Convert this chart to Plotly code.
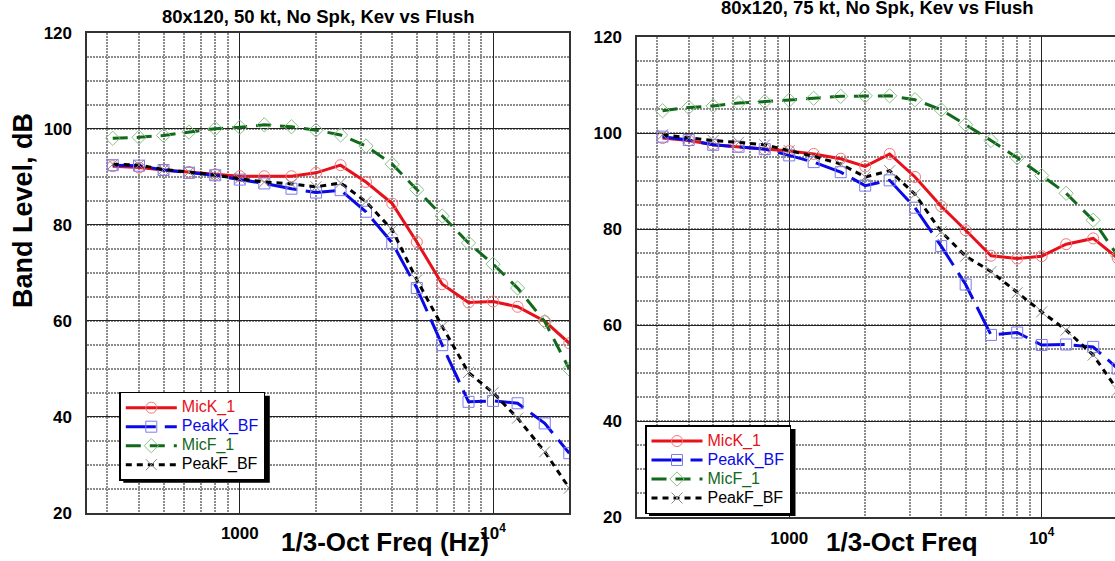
import math
import plotly.graph_objects as go

# ---------------- data ----------------
freq_hz = [315, 400, 500, 630, 800, 1000, 1250, 1600, 2000, 2500, 3150,
           4000, 5000, 6300, 8000, 10000, 12500, 16000, 20000]

# 50 kt panel
mick_50 = [92.2, 91.9, 91.4, 91.0, 90.5, 90.1, 90.1, 90.1, 90.8, 92.4, 88.9,
           84.4, 76.4, 67.6, 63.8, 64.0, 62.9, 59.9, 55.3]
peakk_50 = [92.4, 92.3, 91.4, 90.8, 90.3, 89.4, 88.6, 87.5, 86.7, 87.2, 82.7,
            76.2, 66.8, 54.9, 43.1, 43.3, 42.8, 38.6, 32.4]
micf_50 = [98.0, 98.2, 98.6, 99.3, 100.0, 100.3, 100.8, 100.4, 99.7, 98.7, 96.4,
           92.6, 87.3, 81.8, 76.2, 71.8, 66.8, 59.8, 49.9]
peakf_50 = [92.6, 92.4, 91.5, 91.0, 90.3, 89.6, 88.9, 88.5, 87.9, 88.7, 84.8,
            78.9, 68.5, 58.8, 49.2, 45.0, 39.7, 32.7, 25.1]

# 75 kt panel
mick_75 = [99.0, 98.5, 97.6, 97.2, 96.7, 96.3, 95.7, 94.7, 93.1, 95.7, 90.9,
           84.8, 79.8, 74.5, 73.9, 74.4, 76.9, 78.1, 74.0]
peakk_75 = [99.3, 98.6, 97.6, 97.2, 96.7, 95.4, 94.0, 91.9, 89.1, 90.2, 84.5,
            76.5, 68.5, 58.0, 58.5, 55.9, 56.0, 55.5, 51.0]
micf_75 = [104.7, 105.4, 105.7, 106.3, 106.6, 106.9, 107.3, 107.7, 107.8, 107.8, 107.0,
           104.9, 101.8, 98.5, 94.9, 91.2, 87.5, 81.9, 74.5]
peakf_75 = [99.7, 99.0, 98.5, 98.1, 97.6, 96.4, 95.2, 93.6, 90.9, 92.2, 87.3,
            79.5, 74.4, 71.2, 66.8, 62.8, 59.0, 53.8, 46.5]

series_names = ["MicK_1", "PeakK_BF", "MicF_1", "PeakF_BF"]
y_ticks = [20, 40, 60, 80, 100, 120]
x_tick_vals = [1000, 10000]
x_tick_text = ["<b>1000</b>", "<b>10<sup>4</sup></b>"]
minor_x = [300, 400, 500, 600, 700, 800, 900, 2000, 3000, 4000, 5000, 6000, 7000, 8000, 9000]
titles = ["80x120, 50 kt, No Spk, Kev vs Flush", "80x120, 75 kt, No Spk, Kev vs Flush"]

# ---------------- layout geometry ----------------
W, H = 1115, 561
FONT = "Liberation Sans, Arial, sans-serif"


def X(p):
    return p / W


def Y(p):
    return 1 - p / H


styles = [
    dict(color="#e8101a", mcolor="#f07878", dash="solid", symbol="circle-open"),
    dict(color="#0a0ae6", mcolor="#7c7cf0", dash="30px,9px", symbol="square-open"),
    dict(color="#11691a", mcolor="#8cc08c", dash="15px,9px", symbol="diamond-open"),
    dict(color="#000000", mcolor="#8c8c8c", dash="6px,5px", symbol="x-thin-open"),
]

fig = go.Figure()

panels = [
    ("x", "y", "legend", [mick_50, peakk_50, micf_50, peakf_50]),
    ("x2", "y2", "legend2", [mick_75, peakk_75, micf_75, peakf_75]),
]
for xa, ya, lg, data in panels:
    for name, vals, st in zip(series_names, data, styles):
        fig.add_trace(go.Scatter(
            x=freq_hz, y=vals, xaxis=xa, yaxis=ya, legend=lg,
            mode="lines+markers",
            name=f'<span style="color:{st["color"]};font-size:16px">{name}</span>',
            line=dict(color=st["color"], width=3, dash=st["dash"]),
            marker=dict(symbol=st["symbol"], size=11, color=st["mcolor"],
                        line=dict(width=1, color=st["mcolor"])),
        ))


def xaxis_cfg(domain, rng, anchor):
    return dict(
        type="log", domain=domain, range=rng, anchor=anchor, automargin=False,
        tickmode="array", tickvals=x_tick_vals, ticktext=x_tick_text,
        tickfont=dict(family=FONT, size=17, color="#000"),
        ticks="", ticklabelstandoff=4,
        showgrid=True, gridcolor="#222", gridwidth=1.3,
        minor=dict(tickmode="array", tickvals=minor_x, showgrid=True,
                   gridcolor="#8c8c8c", griddash="2px,1px", gridwidth=1.8, ticks=""),
        showline=True, mirror=True, linecolor="#333", linewidth=1.8,
        zeroline=False,
    )


def yaxis_cfg(domain, anchor):
    return dict(
        domain=domain, range=[20, 120], anchor=anchor, automargin=False,
        tickmode="array", tickvals=y_ticks,
        tickfont=dict(family=FONT, size=17, color="#000", weight="bold"),
        ticks="", ticklabelstandoff=10,
        showgrid=True, gridcolor="#222", gridwidth=1.3,
        minor=dict(dtick=5, showgrid=True, gridcolor="#8c8c8c", griddash="2px,1px",
                   gridwidth=1.8, ticks=""),
        showline=True, mirror=True, linecolor="#333", linewidth=1.8,
        zeroline=False,
    )


x1_dom = [X(87.3), X(569.3)]
x2_dom = [X(637.2), 1.0]
y1_dom = [Y(512.7), Y(32.7)]
y2_dom = [Y(517.3), Y(37.3)]

leg_common = dict(xanchor="left", yanchor="top", bgcolor="white",
                  bordercolor="#000", borderwidth=1.5,
                  font=dict(family=FONT, size=12, color="#000"),
                  itemwidth=51, tracegroupgap=0)

leg_pos = [(119.3, 391.7), (645, 425)]

fig.update_layout(
    width=W, height=H,
    margin=dict(l=0, r=0, t=0, b=0, pad=0),
    paper_bgcolor="white", plot_bgcolor="white",
    font=dict(family=FONT, color="#000"),
    xaxis=xaxis_cfg(x1_dom, [math.log10(250), math.log10(20000)], "y"),
    yaxis=yaxis_cfg(y1_dom, "x"),
    xaxis2=xaxis_cfg(x2_dom, [math.log10(250), 4.2905], "y2"),
    yaxis2=yaxis_cfg(y2_dom, "x2"),
    legend=dict(x=X(leg_pos[0][0]), y=Y(leg_pos[0][1]), **leg_common),
    legend2=dict(x=X(leg_pos[1][0]), y=Y(leg_pos[1][1]), **leg_common),
    showlegend=True,
)

# drop shadows behind the legend boxes
for (lx, ly) in leg_pos:
    fig.add_shape(type="rect", xref="paper", yref="paper", layer="above",
                  x0=X(lx + 4), x1=X(lx + 150.5), y0=Y(ly + 4), y1=Y(ly + 91),
                  fillcolor="#000", line=dict(width=0))

# titles and axis titles
ann = [
    (f"<b>{titles[0]}</b>", 318, 16, 18.5, 0),
    (f"<b>{titles[1]}</b>", 877, 7.5, 18.5, 0),
    ("<b>Band Level, dB</b>", 23, 211, 27, -90),
    ("<b>1/3-Oct Freq (Hz)</b>", 385, 542, 26, 0),
    ("<b>1/3-Oct Freq</b>", 902, 542, 26, 0),
]
for text, ax, ay, size, ang in ann:
    fig.add_annotation(xref="paper", yref="paper", showarrow=False,
                       xanchor="center", yanchor="middle", text=text,
                       x=X(ax), y=Y(ay), textangle=ang,
                       font=dict(family=FONT, color="#000", size=size))

# the page is exactly the figure: remove the browser's default body margin
fig.write_html("out.html",
               config={"displayModeBar": False},
               post_script="document.body.style.margin='0px';document.body.style.overflow='hidden';")
